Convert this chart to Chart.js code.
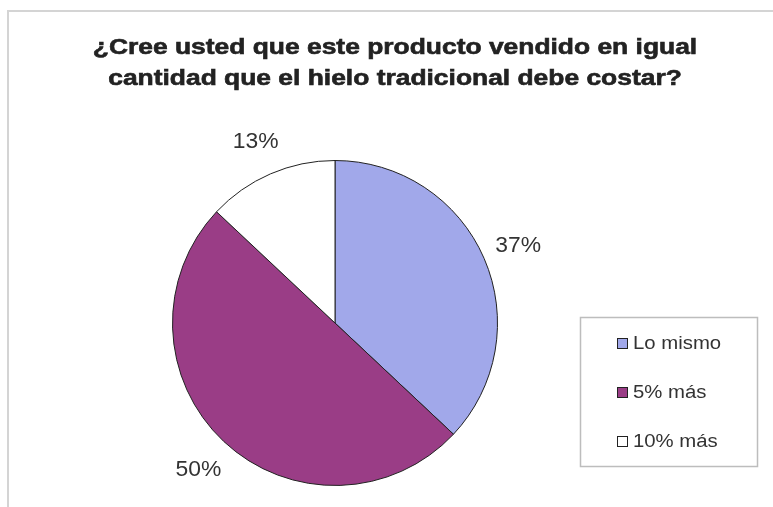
<!DOCTYPE html>
<html>
<head>
<meta charset="utf-8">
<script src="https://cdn.jsdelivr.net/npm/chart.js@4/dist/chart.umd.min.js"></script>
<style>
  html, body { margin: 0; padding: 0; background: #fff; }
  #wrap { width: 773px; height: 507px; }
</style>
</head>
<body>
<div id="wrap"><canvas id="graf" width="773" height="507"></canvas></div>
<script>
// Datos de la encuesta
const categorias = ['Lo mismo', '5% más', '10% más']
const porcentajes = [37, 50, 13]
const colores = ['#a1a8ea', '#9a3d86', '#ffffff']
const titulo = ['¿Cree usted que este producto vendido en igual', 'cantidad que el hielo tradicional debe costar?']

const fuente = '"Liberation Sans", Arial, sans-serif'

// escribe texto ensanchado horizontalmente (factor sx)
function texto(c, t, x, y, sx, stroke) {
  c.save()
  c.translate(x, y)
  c.scale(sx, 1)
  if (stroke) c.strokeText(t, 0, 0)
  c.fillText(t, 0, 0)
  c.restore()
}

// Marco, título, etiquetas de porcentaje y leyenda
const extras = {
  id: 'extras',
  beforeDraw(chart) {
    const c = chart.ctx
    c.save()
    c.fillStyle = '#fff'
    c.fillRect(0, 0, chart.width, chart.height)
    c.strokeStyle = '#d4d4d4'
    c.lineWidth = 2
    c.strokeRect(8, 11, 775, 520)
    c.restore()
  },
  afterDraw(chart) {
    const c = chart.ctx
    c.save()
    // título
    c.fillStyle = '#222'
    c.strokeStyle = '#222'
    c.lineWidth = 0.6
    c.font = 'bold 22px ' + fuente
    c.textAlign = 'center'
    c.textBaseline = 'alphabetic'
    titulo.forEach((t, i) => texto(c, t, 395, 54 + i * 31, 1.2, true))

    // etiquetas fuera de cada sector
    const arcs = chart.getDatasetMeta(0).data
    c.font = '22px ' + fuente
    c.fillStyle = '#333'
    c.textBaseline = 'middle'
    arcs.forEach((arc, i) => {
      const p = arc.getProps(['x', 'y', 'startAngle', 'endAngle', 'outerRadius'], true)
      const a = (p.startAngle + p.endAngle) / 2
      const r = p.outerRadius + 37
      texto(c, porcentajes[i] + '%', p.x + Math.cos(a) * r, p.y + Math.sin(a) * r + 2, 1.04)
    })

    // leyenda con recuadro
    c.strokeStyle = '#bdbdbd'
    c.lineWidth = 1.5
    c.strokeRect(580.5, 317.5, 177, 149)
    c.font = '18px ' + fuente
    c.textAlign = 'left'
    categorias.forEach((cat, i) => {
      const y = 343 + i * 49
      c.fillStyle = colores[i]
      c.fillRect(617, y - 5, 11, 11)
      c.strokeStyle = '#222'
      c.lineWidth = 1
      c.strokeRect(617.5, y - 4.5, 10, 10)
      c.fillStyle = '#333'
      texto(c, cat, 633, y + 1, 1.13)
    })
    c.restore()
  }
}

const ctx = document.getElementById('graf').getContext('2d')
new Chart(ctx, {
  type: 'pie',
  data: {
    labels: categorias,
    datasets: [{
      data: porcentajes,
      backgroundColor: colores,
      borderColor: '#222',
      borderWidth: 1
    }]
  },
  options: {
    responsive: false,
    animation: false,
    layout: { padding: { left: 172, right: 275, top: 160, bottom: 21 } },
    plugins: {
      legend: { display: false },
      title: { display: false },
      tooltip: { enabled: false }
    }
  },
  plugins: [extras]
})
</script>
</body>
</html>
